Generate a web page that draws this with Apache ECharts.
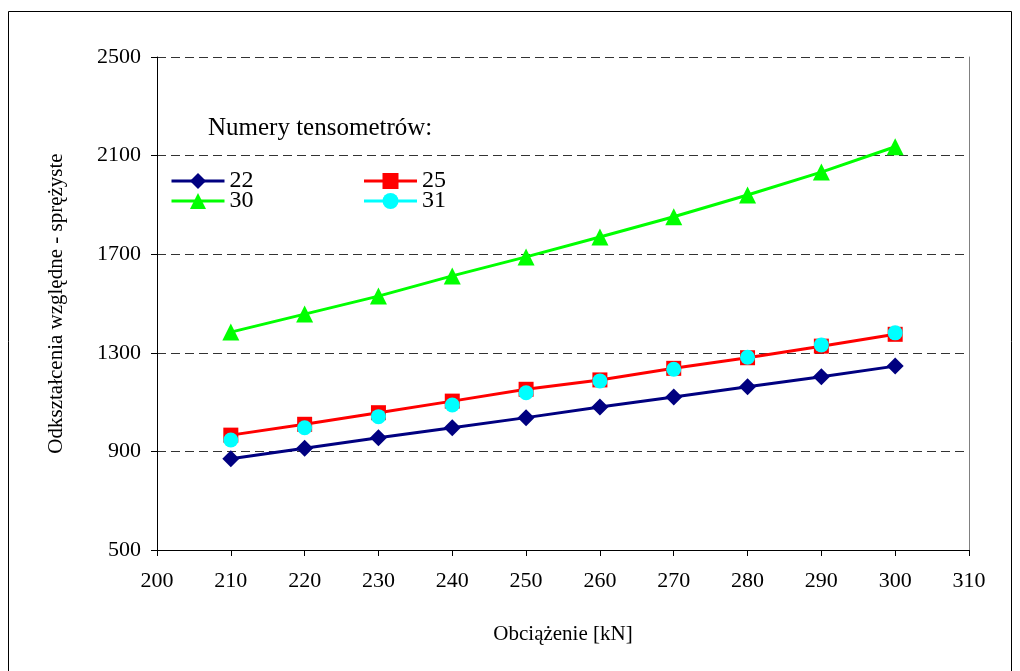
<!DOCTYPE html>
<html>
<head>
<meta charset="utf-8">
<script src="https://cdn.jsdelivr.net/npm/echarts@6/dist/echarts.min.js"></script>
<style>html,body{margin:0;padding:0;background:#fff}#c{width:1020px;height:671px}</style>
</head>
<body>
<div id="c"></div>
<script>
const loads = [210, 220, 230, 240, 250, 260, 270, 280, 290, 300];
const s22 = [870, 913, 955, 996, 1037, 1080, 1121, 1162, 1203, 1246];
const s25 = [966, 1010, 1057, 1104, 1152, 1190, 1237, 1280, 1327, 1375];
const s30 = [1384, 1457, 1530, 1612, 1689, 1770, 1852, 1940, 2033, 2136];
const s31 = [946, 996, 1041, 1088, 1138, 1186, 1233, 1282, 1332, 1381];
const seriesNames = ['22', '25', '30', '31'];
const legendTitle = 'Numery tensometrów:';
const xTitle = 'Obciążenie [kN]';
const yTitle = 'Odkształcenia względne - sprężyste';

const font = '"Liberation Serif", "Times New Roman", serif';
const pair = (arr) => loads.map((x, i) => [x, arr[i]]);

const chart = echarts.init(document.getElementById('c'), null, {renderer: 'canvas'});
const mk = (name, data, color, symbol, size, showLine) => ({
  name, type: 'line', data: pair(data), symbol, symbolSize: size,
  lineStyle: {color, width: showLine ? 3 : 0, opacity: showLine ? 1 : 0},
  itemStyle: {color}, z: 3
});
const legendCommon = {
  orient: 'horizontal', itemWidth: 53, itemHeight: 20, itemGap: 109,
  textStyle: {fontFamily: font, fontSize: 24, color: '#000'},
  lineStyle: {width: 3}, padding: 0
};
chart.setOption({
  animation: false,
  backgroundColor: '#fff',
  graphic: [{
    type: 'rect', shape: {x: 8.5, y: 11.5, width: 1003, height: 700},
    style: {fill: 'none', stroke: '#000', lineWidth: 1}, z: 0
  }, {
    type: 'text', left: 208, top: 116,
    style: {text: legendTitle, font: '25px ' + font, fill: '#000'}, z: 10
  }],
  grid: {left: 157, right: 51, top: 57, bottom: 121, containLabel: false},
  legend: [
    Object.assign({data: [seriesNames[0], seriesNames[1]], left: 170, top: 169}, legendCommon),
    Object.assign({data: [seriesNames[2],
      {name: seriesNames[3], lineStyle: {color: '#00FFFF', width: 3, opacity: 1}}],
      left: 170, top: 189}, legendCommon)
  ],
  xAxis: {
    type: 'value', min: 200, max: 310, interval: 10,
    name: xTitle, nameLocation: 'middle', nameGap: 74,
    nameTextStyle: {fontFamily: font, fontSize: 21, color: '#000'},
    axisLine: {lineStyle: {color: '#000', width: 1}},
    axisTick: {show: true, inside: false, length: 6, lineStyle: {color: '#000'}},
    axisLabel: {fontFamily: font, fontSize: 22, color: '#000', margin: 20},
    splitLine: {show: false}
  },
  yAxis: [{
    type: 'value', min: 500, max: 2500, interval: 400,
    name: yTitle, nameLocation: 'middle', nameGap: 90, nameRotate: 90,
    nameTextStyle: {fontFamily: font, fontSize: 21, color: '#000'},
    axisLine: {show: true, lineStyle: {color: '#000', width: 1}},
    axisTick: {show: true, inside: false, length: 6, lineStyle: {color: '#000'}},
    axisLabel: {fontFamily: font, fontSize: 22, color: '#000', margin: 16,
      formatter: (v) => String(v)},
    splitLine: {show: true, lineStyle: {color: '#333', width: 1, type: [9, 5]}}
  }, {
    type: 'value', min: 500, max: 2500, interval: 400, position: 'right',
    axisLine: {show: true, lineStyle: {color: '#808080', width: 1}},
    axisTick: {show: false}, axisLabel: {show: false}, splitLine: {show: false}
  }],
  series: [
    mk(seriesNames[0], s22, '#000080', 'diamond', 17, true),
    mk(seriesNames[1], s25, '#FF0000', 'rect', 15, true),
    mk(seriesNames[2], s30, '#00FF00', 'triangle', 17, true),
    mk(seriesNames[3], s31, '#00FFFF', 'circle', 15, false)
  ]
});
</script>
</body>
</html>
